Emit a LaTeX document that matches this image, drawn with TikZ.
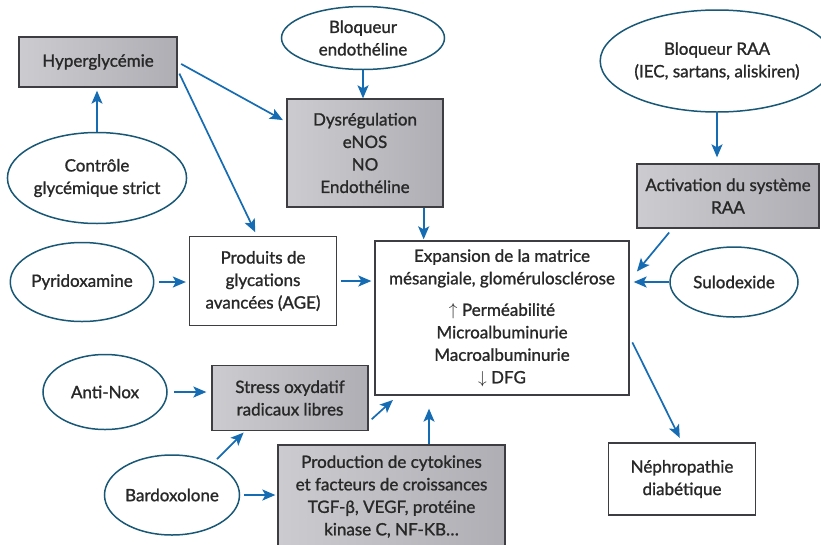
\documentclass[tikz,border=0pt]{standalone}
\usepackage{fontspec}
\setmainfont{Lato}[FakeBold=1.2]
\usepackage{tikz}
\usetikzlibrary{calc, shapes.geometric, arrows.meta, positioning}
\definecolor{arrowblue}{RGB}{22,108,178}
\definecolor{ringteal}{RGB}{24,88,118}
\definecolor{boxline}{RGB}{62,62,66}
\definecolor{greyL}{RGB}{204,204,208}
\definecolor{greyD}{RGB}{174,174,180}
\definecolor{inktext}{RGB}{40,40,40}
\tikzset{
	txt/.style={align=center, font=\fontsize{17}{22.5}\selectfont, text=inktext, inner sep=0pt},
	whitebox/.style={txt, draw=boxline, line width=1.3pt, fill=white},
	greybox/.style={whitebox, left color=greyL, right color=greyD},
	drug/.style={txt, ellipse, draw=ringteal, line width=1.5pt, fill=white},
	arr/.style={-{Stealth[length=13pt, width=11pt, inset=3pt]}, draw=arrowblue, line width=1.7pt},
}

\begin{document}
\begin{tikzpicture}[x=1pt, y=-1pt]
	\useasboundingbox (0,0) rectangle (821,544);
	% boxes
	\node[greybox, minimum width=158pt, minimum height=50pt] (hyper) at (98,62) {Hyperglycémie};
	\node[greybox, minimum width=156pt, minimum height=108pt] (dysreg) at (365,153) {Dysrégulation\\eNOS\\NO\\Endothéline};
	\node[whitebox, minimum width=147pt, minimum height=89pt] (produits) at (263,281) {Produits de\\glycations\\avancées (AGE)};
	\node[whitebox, minimum width=254pt, minimum height=154pt] (expansion) at (502,318) {Expansion de la matrice\\mésangiale, glomérulosclérose\\[9pt]$\uparrow$ Perméabilité\\Microalbuminurie\\Macroalbuminurie\\$\downarrow$ DFG};
	\node[greybox, minimum width=156pt, minimum height=65pt] (stress) at (290,398) {Stress oxydatif\\radicaux libres};
	\node[greybox, minimum width=227pt, minimum height=103pt] (production) at (391.5,496.5) {Production de cytokines\\et facteurs de croissances\\TGF-β, VEGF, protéine\\kinase C, NF-KB\dots};
	\node[greybox, minimum width=182pt, minimum height=64pt] (activation) at (728,196) {Activation du système\\RAA};
	\node[whitebox, minimum width=147pt, minimum height=72pt] (nephro) at (682,479) {Néphropathie\\diabétique};
	% ellipses
	\node[drug, minimum width=165pt, minimum height=91pt] (controle) at (97,178) {Contrôle\\glycémique strict};
	\node[drug, minimum width=163pt, minimum height=63pt] (bloqendo) at (363,38) {Bloqueur\\endothéline};
	\node[drug, minimum width=135pt, minimum height=79pt] (pyrido) at (82,282) {Pyridoxamine};
	\node[drug, minimum width=124pt, minimum height=75pt] (antinox) at (105,392) {Anti-Nox};
	\node[drug, minimum width=135pt, minimum height=80pt] (bardox) at (172,495) {Bardoxolone};
	\node[drug, minimum width=188pt, minimum height=102pt] (bloqraa) at (717,61) {Bloqueur RAA\\(IEC, sartans, aliskiren)};
	\node[drug, minimum width=128pt, minimum height=70pt] (sulo) at (734,282) {Sulodexide};

	% arrows
	\draw[arr, shorten >=3pt] (controle.north) -- (controle.north |- hyper.south);
	\draw[arr, shorten <=4pt, shorten >=4pt] (hyper.east) -- ([yshift=31pt]dysreg.west);
	\draw[arr, shorten <=4pt, shorten >=4pt] ([yshift=-8pt]hyper.east) -- ([xshift=-6pt]produits.north);
	\draw[arr] (bloqendo.south) -- (bloqendo.south |- dysreg.north);
	\draw[arr, shorten >=1pt] ([xshift=-20pt]dysreg.south east) -- ([xshift=-20pt]dysreg.south east |- expansion.north);
	\draw[arr, shorten <=5pt, shorten >=3pt] (pyrido.east) -- (pyrido.east -| produits.west);
	\draw[arr, shorten <=4pt, shorten >=3pt] (produits.east) -- (produits.east -| expansion.west);
	\draw[arr, shorten <=6pt, shorten >=5pt] (antinox.east) -- (antinox.east -| stress.west);
	\draw[arr, shorten <=4pt, shorten >=2pt] ([yshift=-24pt]stress.east) -- ([xshift=20pt, yshift=-3pt]expansion.south west);
	\draw[arr, shorten <=5pt, shorten >=2pt] (bardox.38) -- ([xshift=-45pt]stress.south);
	\draw[arr, shorten <=4pt, shorten >=2pt] (bardox.east) -- (bardox.east -| production.west);
	\draw[arr, shorten >=13pt] ([xshift=37.5pt]production.north) -- ([xshift=37.5pt]production.north |- expansion.south);
	\draw[arr, shorten >=6pt] (bloqraa.south) -- (bloqraa.south |- activation.north);
	\draw[arr, shorten <=5pt, shorten >=2pt] ([xshift=36pt]activation.south west) -- ([xshift=6pt, yshift=45pt]expansion.east);
	\draw[arr, shorten >=4pt] (sulo.west) -- (sulo.west -| expansion.east);
	\draw[arr, shorten <=6pt, shorten >=5pt] ([yshift=-19pt]expansion.east) -- (nephro.north);
\end{tikzpicture}
\end{document}
